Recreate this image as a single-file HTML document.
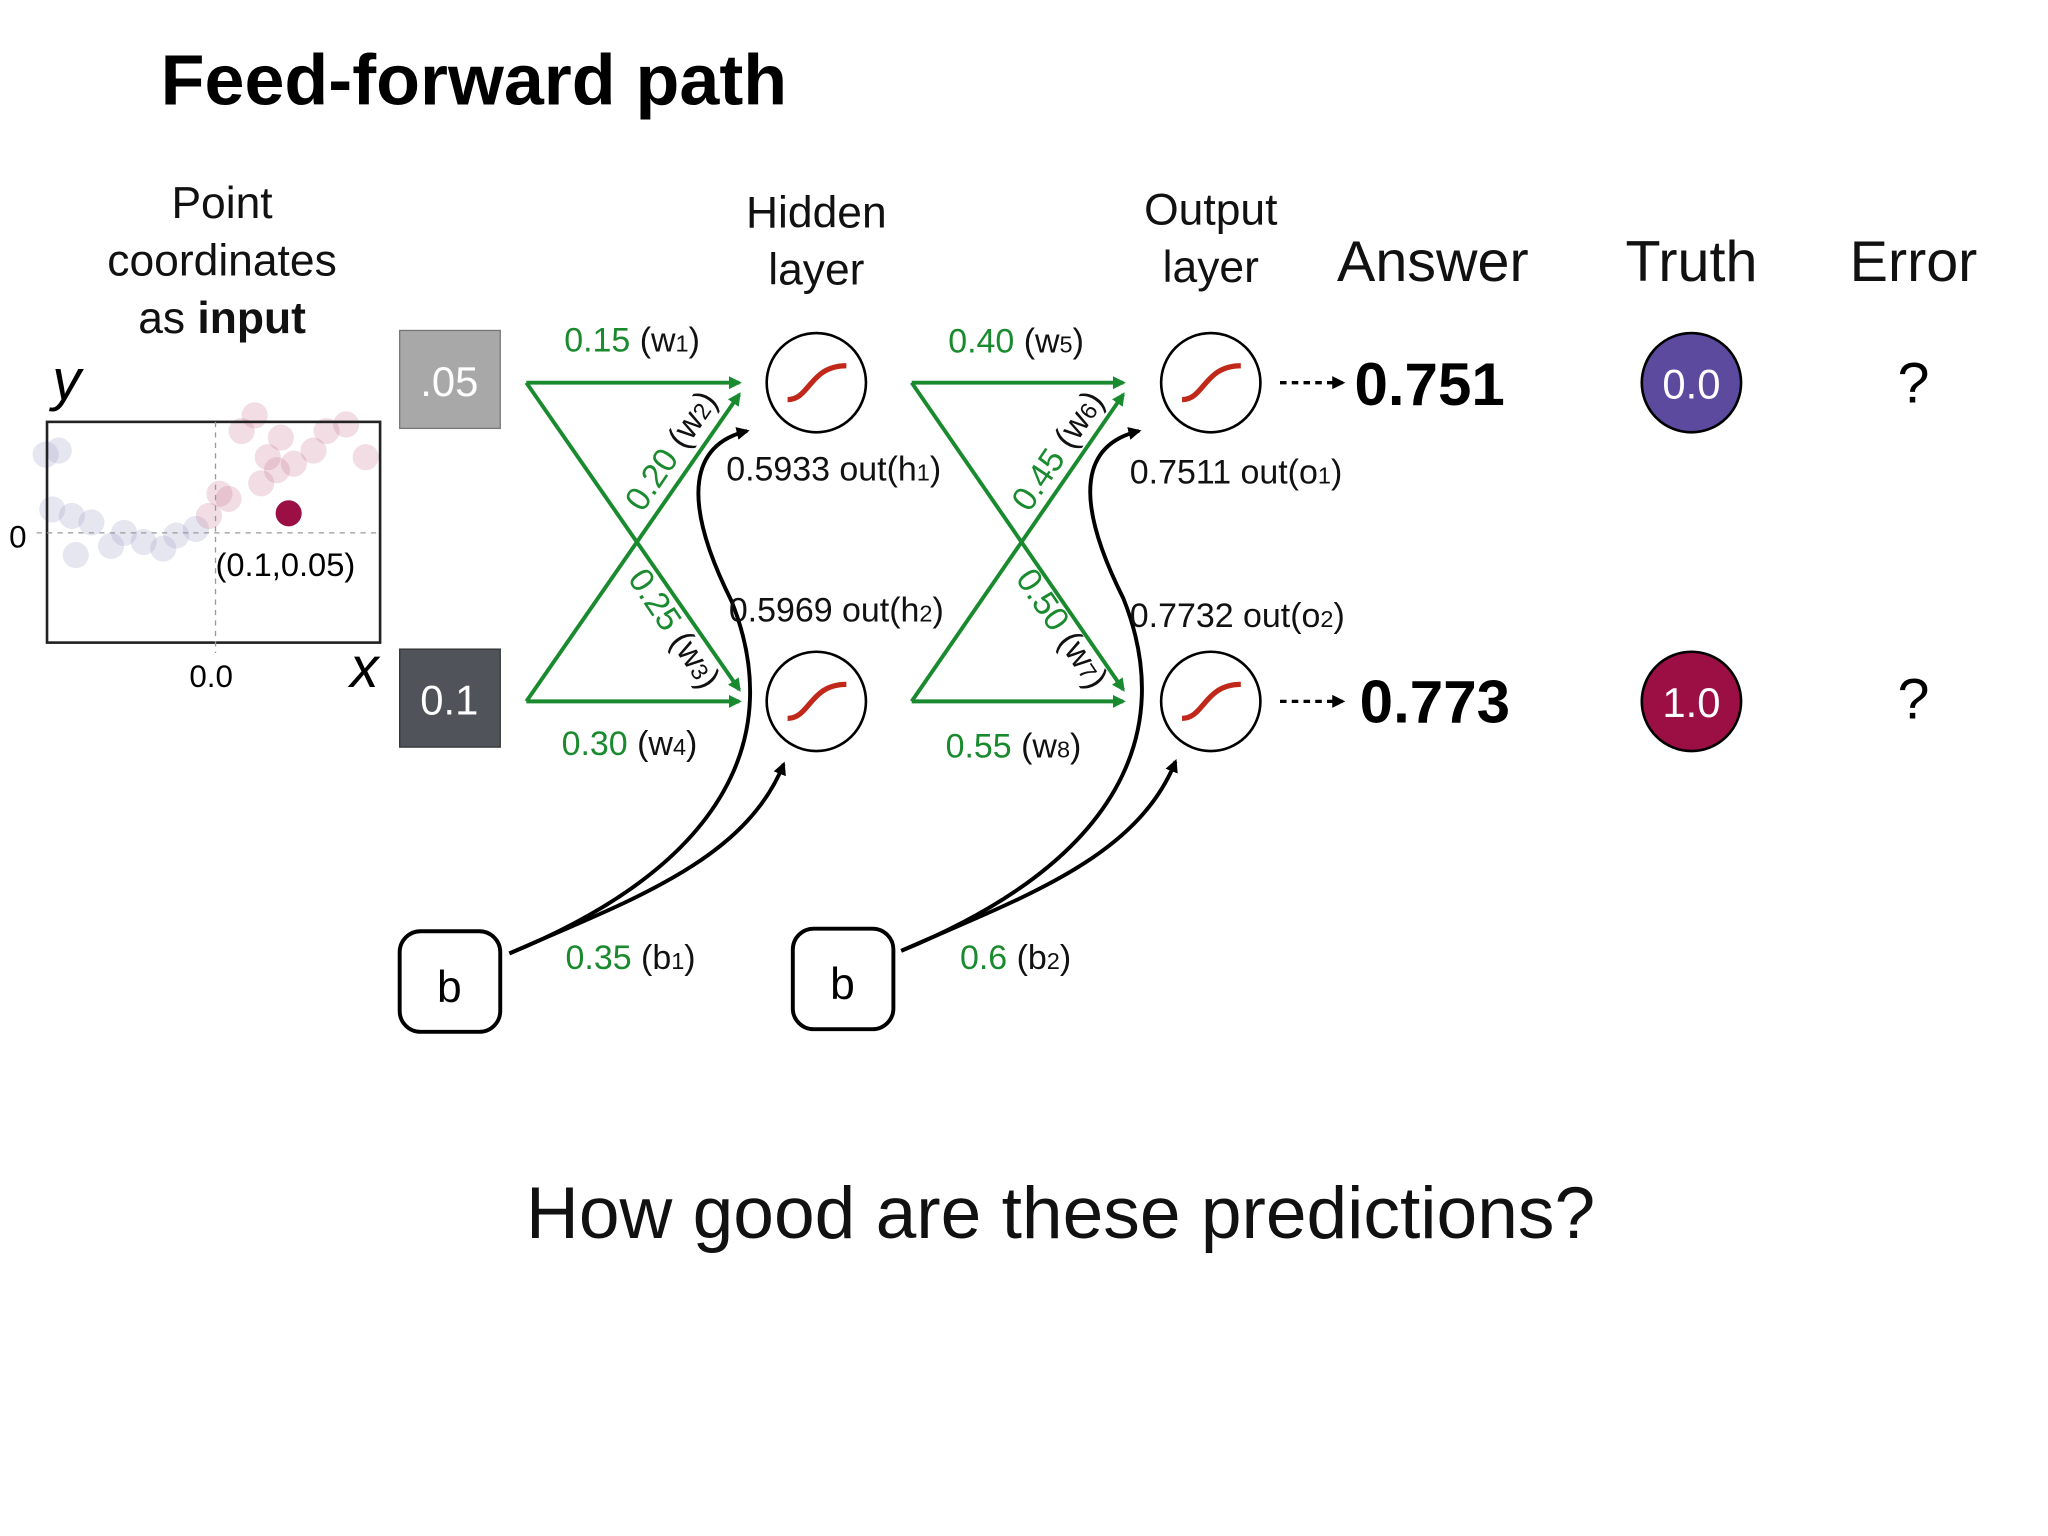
<!DOCTYPE html>
<html><head><meta charset="utf-8"><style>
html,body{margin:0;padding:0;background:#fff;}
svg{display:block;}
text{font-family:"Liberation Sans",sans-serif;}
</style></head><body>
<svg width="2048" height="1536" viewBox="0 0 1568 1176" xmlns="http://www.w3.org/2000/svg">
<defs>
<marker id="ga" markerWidth="10" markerHeight="10" refX="8" refY="5" orient="auto" markerUnits="userSpaceOnUse"><path d="M0,0 L10,5 L0,10 z" fill="#1a8a2e"/></marker>
<marker id="ka" markerWidth="10" markerHeight="10" refX="8" refY="5" orient="auto" markerUnits="userSpaceOnUse"><path d="M0,0 L10,5 L0,10 z" fill="#000"/></marker>
</defs>
<text x="123" y="80" font-size="55" font-weight="bold">Feed-forward path</text>
<g font-size="34" text-anchor="middle" fill="#111">
<text x="170" y="167">Point</text>
<text x="170" y="211">coordinates</text>
<text x="170" y="255">as <tspan font-weight="bold">input</tspan></text>
<text x="625" y="174">Hidden</text>
<text x="625" y="218">layer</text>
<text x="927" y="172">Output</text>
<text x="927" y="216">layer</text>
</g>
<g font-size="44" text-anchor="middle" fill="#111">
<text x="1097" y="215">Answer</text>
<text x="1295" y="215">Truth</text>
<text x="1465" y="215">Error</text>
</g>
<g fill-opacity="0.25">
<circle cx="35" cy="348" r="10" fill="#9a9ac8"/><circle cx="45" cy="345" r="10" fill="#9a9ac8"/>
<circle cx="40" cy="390" r="10" fill="#9a9ac8"/><circle cx="55" cy="395" r="10" fill="#9a9ac8"/>
<circle cx="70" cy="400" r="10" fill="#9a9ac8"/><circle cx="58" cy="425" r="10" fill="#9a9ac8"/>
<circle cx="85" cy="418" r="10" fill="#9a9ac8"/><circle cx="95" cy="408" r="10" fill="#9a9ac8"/>
<circle cx="110" cy="415" r="10" fill="#9a9ac8"/><circle cx="125" cy="420" r="10" fill="#9a9ac8"/>
<circle cx="135" cy="410" r="10" fill="#9a9ac8"/><circle cx="150" cy="405" r="10" fill="#9a9ac8"/>
<circle cx="160" cy="395" r="10" fill="#c87890"/><circle cx="168" cy="378" r="10" fill="#c87890"/>
<circle cx="175" cy="382" r="10" fill="#c87890"/><circle cx="185" cy="330" r="10" fill="#c87890"/>
<circle cx="200" cy="370" r="10" fill="#c87890"/><circle cx="205" cy="350" r="10" fill="#c87890"/>
<circle cx="215" cy="335" r="10" fill="#c87890"/><circle cx="225" cy="355" r="10" fill="#c87890"/>
<circle cx="240" cy="345" r="10" fill="#c87890"/><circle cx="250" cy="330" r="10" fill="#c87890"/>
<circle cx="265" cy="325" r="10" fill="#c87890"/><circle cx="280" cy="350" r="10" fill="#c87890"/>
<circle cx="195" cy="318" r="10" fill="#c87890"/><circle cx="212" cy="360" r="10" fill="#c87890"/>
</g>
<rect x="36" y="323" width="255" height="169" fill="none" stroke="#222" stroke-width="2"/>
<line x1="28" y1="408" x2="291" y2="408" stroke="#999" stroke-dasharray="4,4"/>
<line x1="165" y1="323" x2="165" y2="500" stroke="#999" stroke-dasharray="4,4"/>
<circle cx="221" cy="393" r="10" fill="#9b0f45"/>
<text x="40" y="306" font-family="Liberation Serif,serif" font-style="italic" font-size="44">y</text>
<text x="268" y="526" font-family="Liberation Serif,serif" font-style="italic" font-size="44">x</text>
<text x="7" y="419" font-size="24">0</text>
<text x="145" y="526" font-size="24">0.0</text>
<text x="165" y="441" font-size="25">(0.1,0.05)</text>
<rect x="306" y="253" width="77" height="75" fill="#a8a8a8" stroke="#777"/>
<text x="344" y="303" font-size="32" fill="#fff" text-anchor="middle">.05</text>
<rect x="306" y="497" width="77" height="75" fill="#50535a" stroke="#333"/>
<text x="344" y="547" font-size="32" fill="#fff" text-anchor="middle">0.1</text>
<g stroke="#1a8a2e" stroke-width="3" marker-end="url(#ga)" fill="none">
<line x1="403" y1="293" x2="566" y2="293"/>
<line x1="403" y1="293" x2="566" y2="528"/>
<line x1="403" y1="537" x2="566" y2="302"/>
<line x1="403" y1="537" x2="566" y2="537"/>
<line x1="698" y1="293" x2="860" y2="293"/>
<line x1="698" y1="293" x2="860" y2="528"/>
<line x1="698" y1="537" x2="860" y2="302"/>
<line x1="698" y1="537" x2="860" y2="537"/>
</g>
<g stroke="#000" stroke-width="3" fill="none" marker-end="url(#ka)">
<path d="M390 730 C 480 690, 570 660, 600 585"/>
<path d="M390 730 C 560 660, 600 560, 560 460 C 520 380, 530 340, 572 330"/>
<path d="M690 728 C 780 688, 870 658, 900 583"/>
<path d="M690 728 C 860 658, 900 558, 860 458 C 820 378, 830 340, 872 330"/>
</g>
<rect x="306" y="713" width="77" height="77" rx="16" fill="#fff" stroke="#000" stroke-width="3"/>
<text x="344" y="767" font-size="34" text-anchor="middle">b</text>
<rect x="607" y="711" width="77" height="77" rx="16" fill="#fff" stroke="#000" stroke-width="3"/>
<text x="645" y="765" font-size="34" text-anchor="middle">b</text>
<g fill="#fff" stroke="#000" stroke-width="2">
<circle cx="625" cy="293" r="38"/><circle cx="625" cy="537" r="38"/>
<circle cx="927" cy="293" r="38"/><circle cx="927" cy="537" r="38"/>
</g>
<g stroke="#c0281a" stroke-width="4" fill="none">
<path d="M603 306 C 620 306, 620 280, 648 280"/>
<path d="M603 550 C 620 550, 620 524, 648 524"/>
<path d="M905 306 C 922 306, 922 280, 950 280"/>
<path d="M905 550 C 922 550, 922 524, 950 524"/>
</g>
<g font-size="26" fill="#111">
<text x="432" y="269"><tspan fill="#1a8a2e">0.15</tspan> (w<tspan font-size="18">1</tspan>)</text>
<text x="430" y="578"><tspan fill="#1a8a2e">0.30</tspan> (w<tspan font-size="18">4</tspan>)</text>
<text x="726" y="270"><tspan fill="#1a8a2e">0.40</tspan> (w<tspan font-size="18">5</tspan>)</text>
<text x="724" y="580"><tspan fill="#1a8a2e">0.55</tspan> (w<tspan font-size="18">8</tspan>)</text>
<text x="433" y="742"><tspan fill="#1a8a2e">0.35</tspan> (b<tspan font-size="18">1</tspan>)</text>
<text x="735" y="742"><tspan fill="#1a8a2e">0.6</tspan> (b<tspan font-size="18">2</tspan>)</text>
<text x="556" y="368">0.5933 out(h<tspan font-size="18">1</tspan>)</text>
<text x="558" y="476">0.5969 out(h<tspan font-size="18">2</tspan>)</text>
<text x="865" y="370">0.7511 out(o<tspan font-size="18">1</tspan>)</text>
<text x="865" y="480">0.7732 out(o<tspan font-size="18">2</tspan>)</text>
<text transform="translate(492,393) rotate(-56)"><tspan fill="#1a8a2e">0.20</tspan> (w<tspan font-size="18">2</tspan>)</text>
<text transform="translate(788,393) rotate(-56)"><tspan fill="#1a8a2e">0.45</tspan> (w<tspan font-size="18">6</tspan>)</text>
<text transform="translate(480,443) rotate(56)"><tspan fill="#1a8a2e">0.25</tspan> (w<tspan font-size="18">3</tspan>)</text>
<text transform="translate(777,443) rotate(56)"><tspan fill="#1a8a2e">0.50</tspan> (w<tspan font-size="18">7</tspan>)</text>
</g>
<g stroke="#000" stroke-width="2.5" stroke-dasharray="5,4" marker-end="url(#ka)">
<line x1="980" y1="293" x2="1028" y2="293"/>
<line x1="980" y1="537" x2="1028" y2="537"/>
</g>
<text x="1037" y="310" font-size="46" font-weight="bold">0.751</text>
<text x="1041" y="553" font-size="46" font-weight="bold">0.773</text>
<circle cx="1295" cy="293" r="38" fill="#5b4a9e" stroke="#000" stroke-width="2"/>
<text x="1295" y="305" font-size="32" fill="#fff" text-anchor="middle">0.0</text>
<circle cx="1295" cy="537" r="38" fill="#9b0f45" stroke="#000" stroke-width="2"/>
<text x="1295" y="549" font-size="32" fill="#fff" text-anchor="middle">1.0</text>
<text x="1465" y="308" font-size="44" text-anchor="middle">?</text>
<text x="1465" y="550" font-size="44" text-anchor="middle">?</text>
<text x="812" y="948" font-size="56" text-anchor="middle" fill="#111">How good are these predictions?</text>
</svg>
</body></html>
